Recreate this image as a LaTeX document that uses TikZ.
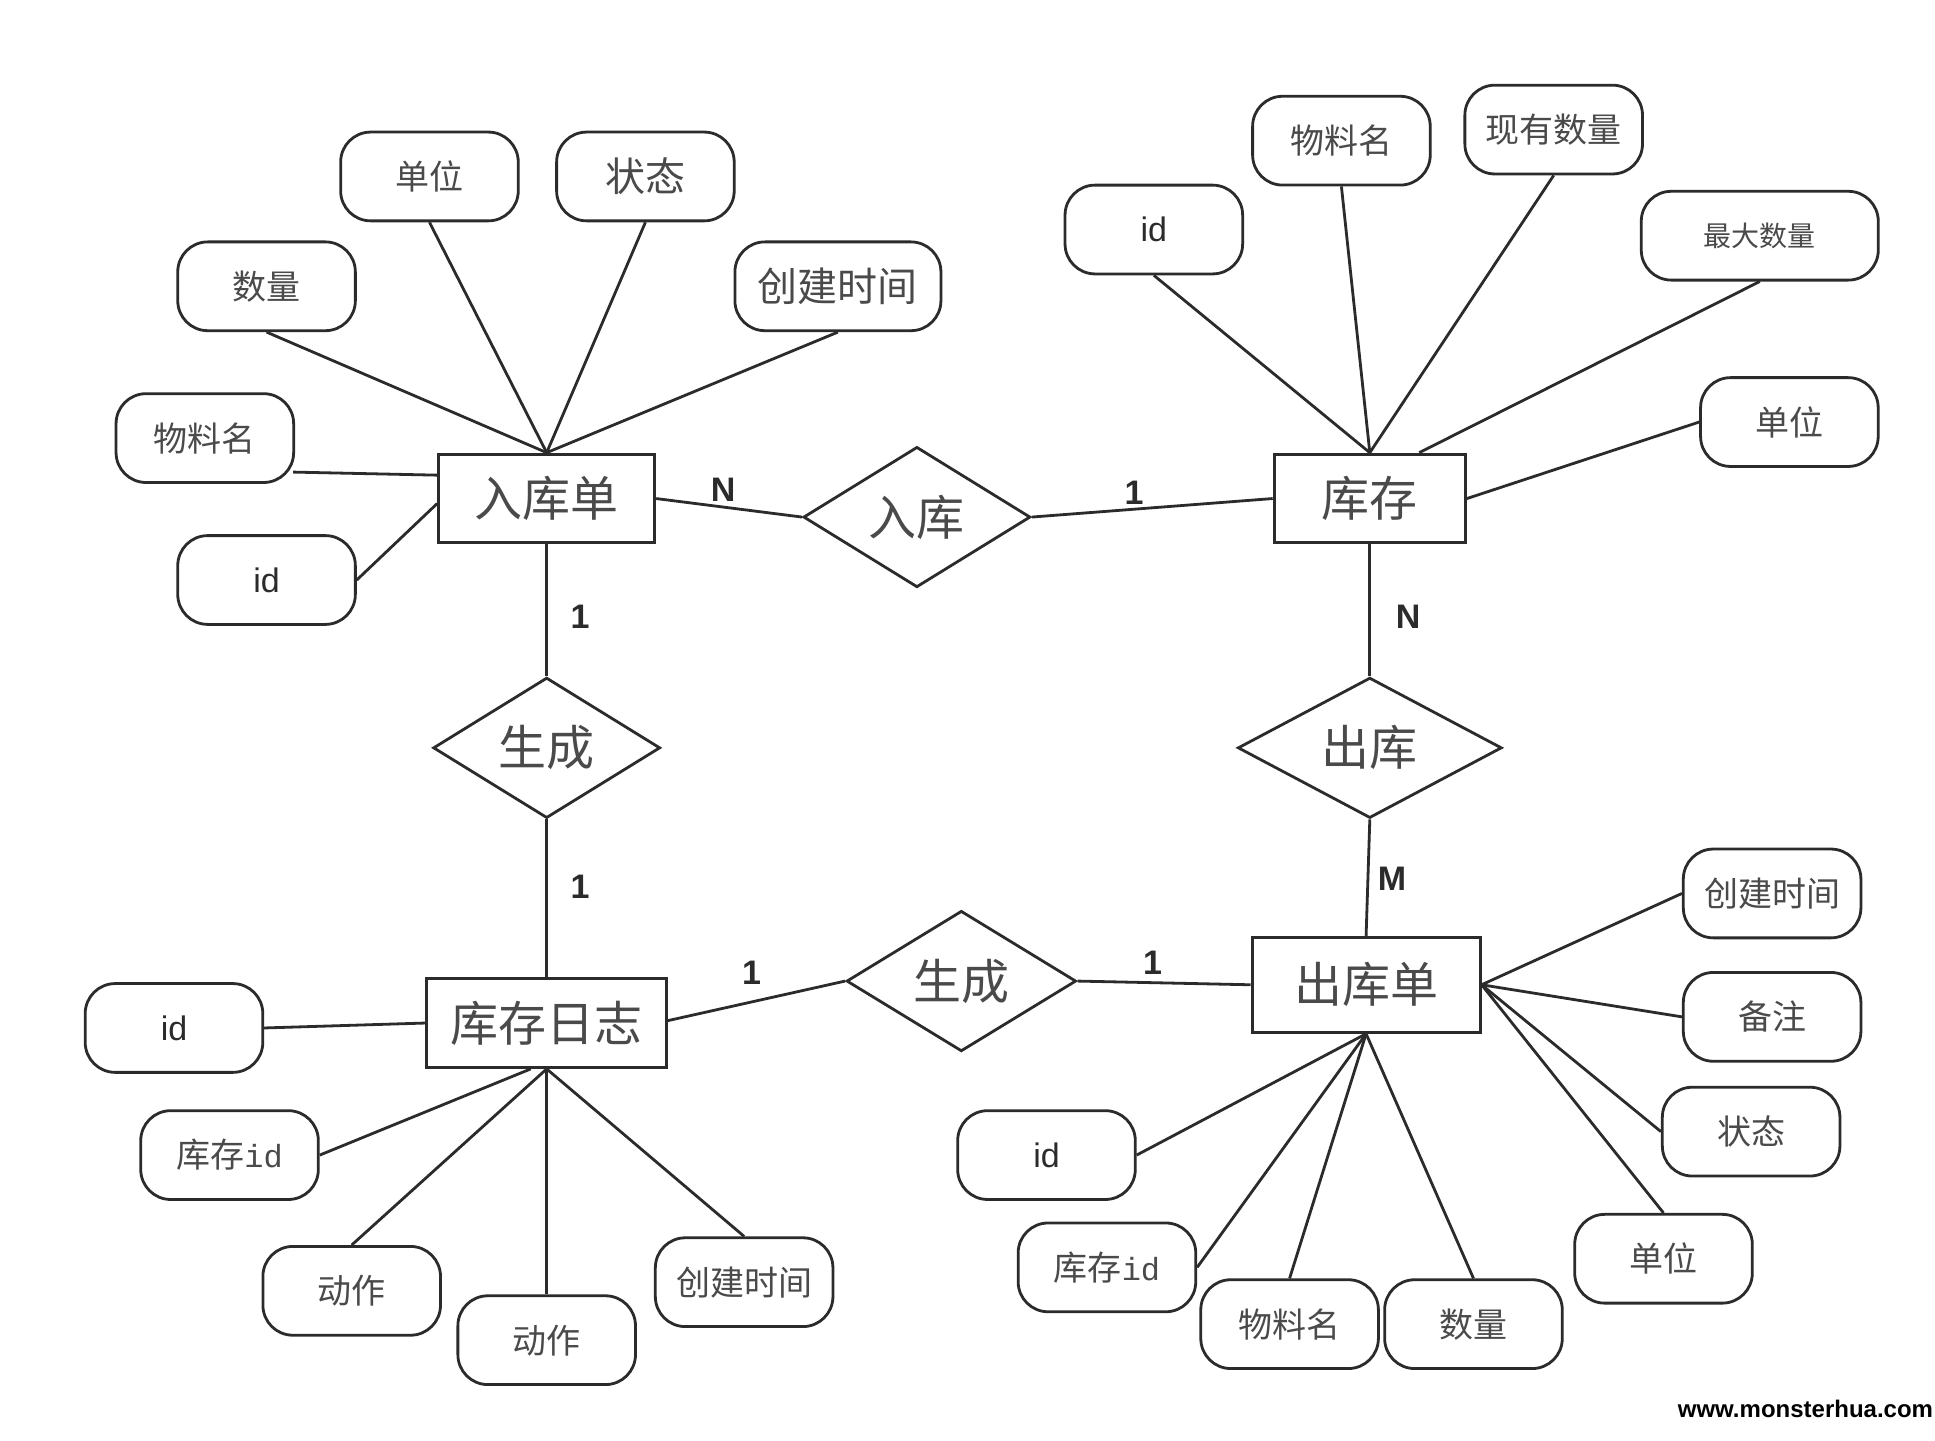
\documentclass[tikz,border=0pt]{standalone}
\usepackage{fontspec}
\setmainfont{Liberation Sans}
\newfontfamily\cjk{Noto Sans CJK SC}
\newfontfamily\monofnt{Liberation Mono}
\usetikzlibrary{shapes.geometric}
\definecolor{tgray}{HTML}{4A4A4A}
\definecolor{lgray}{HTML}{2B2B2B}
\tikzset{
  attr/.style={draw=lgray, line width=1.4pt, rounded corners=15pt, minimum width=88.8pt, minimum height=44.4pt, inner sep=0pt, text=tgray, font=\cjk\fontsize{17}{20}\selectfont},
  idattr/.style={attr, font=\fontsize{17}{20}\selectfont, text=lgray},
  ent/.style={draw=lgray, line width=1.5pt, rectangle, minimum height=44.4pt, inner sep=0pt, text=tgray, font=\cjk\fontsize{24}{28}\selectfont},
  rel/.style={draw=lgray, line width=1.4pt, diamond, inner sep=0pt, minimum height=67.9pt, text=tgray, font=\cjk\fontsize{24}{28}\selectfont},
  card/.style={font=\bfseries\fontsize{17}{20}\selectfont, text=lgray, inner sep=0pt},
  conn/.style={draw=lgray, line width=1.4pt}
}
\begin{document}
\begin{tikzpicture}[x=0.617pt,y=-0.617pt]
\useasboundingbox[fill=white] (0,0) rectangle (1568,1167);

% entities
\node[ent, minimum width=108pt] (rkd) at (443,404) {入库单};
\node[ent, minimum width=95.6pt] (kc) at (1110,404) {库存};
\node[ent, minimum width=119.7pt] (rz) at (443,829) {库存日志};
\node[ent, minimum width=114pt, minimum height=47.5pt] (ckd) at (1107,798) {出库单};

% relations
\node[rel, minimum width=113.5pt] (rk) at (743,419) {入库};
\node[rel, minimum width=113.5pt] (sc1) at (443,606) {生成};
\node[rel, minimum width=132pt] (ck) at (1110,606) {出库};
\node[rel, minimum width=114.8pt] (sc2) at (779,795) {生成};

% attributes of 入库单
\node[attr] (a1) at (348,143) {单位};
\node[attr, font=\cjk\fontsize{20}{24}\selectfont] (a2) at (523,143) {状态};
\node[attr] (a3) at (216,232) {数量};
\node[attr, minimum width=103pt, font=\cjk\fontsize{20}{24}\selectfont] (a4) at (679,232) {创建时间};
\node[attr] (a5) at (166,355) {物料名};
\node[idattr] (a6) at (216,470) {id};

% attributes of 库存
\node[idattr] (b1) at (935,186) {id};
\node[attr] (b2) at (1087,114) {物料名};
\node[attr] (b3) at (1259,105) {现有数量};
\node[attr, minimum width=118.5pt, font=\cjk\fontsize{14}{17}\selectfont] (b4) at (1426,191) {最大数量};
\node[attr] (b5) at (1450,342) {单位};

% attributes of 库存日志
\node[idattr] (c1) at (141,833) {id};
\node[attr] (c2) at (186,936) {库存{\monofnt\fontsize{16}{20}\selectfont id}};
\node[attr] (c3) at (285,1046) {动作};
\node[attr] (c4) at (443,1086) {动作};
\node[attr] (c5) at (603,1039) {创建时间};

% attributes of 出库单
\node[attr] (d1) at (1436,724) {创建时间};
\node[attr] (d2) at (1436,824) {备注};
\node[attr] (d3) at (1419,917) {状态};
\node[attr] (d4) at (1348,1020) {单位};
\node[idattr] (d5) at (848,936) {id};
\node[attr] (d6) at (897,1027) {库存{\monofnt\fontsize{16}{20}\selectfont id}};
\node[attr] (d7) at (1045,1073) {物料名};
\node[attr] (d8) at (1194,1073) {数量};

% attribute links: 入库单
\draw[conn] (a3.south) -- (rkd.north);
\draw[conn] (a1.south) -- (rkd.north);
\draw[conn] (a2.south) -- (rkd.north);
\draw[conn] (a4.south) -- (rkd.north);
\draw[conn] ([yshift=-17pt,xshift=-1pt]a5.east) -- ([yshift=11.7pt]rkd.west);
\draw[conn] (a6.east) -- ([yshift=-2.5pt]rkd.west);

% attribute links: 库存
\draw[conn] (b1.south) -- (kc.north);
\draw[conn] (b2.south) -- (kc.north);
\draw[conn] (b3.south) -- (kc.north);
\draw[conn] (b4.south) -- ([xshift=24.7pt]kc.north);
\draw[conn] (b5.west) -- (kc.east);

% attribute links: 库存日志
\draw[conn] (c1.east) -- (rz.west);
\draw[conn] (c2.east) -- ([xshift=-8pt]rz.south);
\draw[conn] (c3.north) -- (rz.south);
\draw[conn] (c4.north) -- (rz.south);
\draw[conn] (c5.north) -- (rz.south);

% attribute links: 出库单
\draw[conn] (ckd.east) -- (d1.west);
\draw[conn] (ckd.east) -- (d2.west);
\draw[conn] (ckd.east) -- (d3.west);
\draw[conn] (ckd.east) -- (d4.north);
\draw[conn] (ckd.south) -- (d5.east);
\draw[conn] (ckd.south) -- (d6.east);
\draw[conn] (ckd.south) -- (d7.north);
\draw[conn] (ckd.south) -- (d8.north);

% relationship links
\draw[conn] (rkd.east) -- (rk.west);
\draw[conn] (rk.east) -- (kc.west);
\draw[conn] (rkd.south) -- (sc1.north);
\draw[conn] (sc1.south) -- (rz.north);
\draw[conn] (kc.south) -- (ck.north);
\draw[conn] (ck.south) -- (ckd.north);
\draw[conn] ([yshift=1.2pt]rz.east) -- (sc2.west);
\draw[conn] (sc2.east) -- (ckd.west);

% cardinalities
\node[card] (n1) at (586,397) {N};
\node[card] (n2) at (919,399) {1};
\node[card] (n3) at (470,500) {1};
\node[card] (n4) at (470,719) {1};
\node[card] (n5) at (1141,500) {N};
\node[card] (n6) at (1128,712) {M};
\node[card] (n7) at (609,788) {1};
\node[card] (n8) at (934,780) {1};

% watermark
\node[font=\bfseries\fontsize{12}{14}\selectfont, inner sep=0pt] (wm) at (1463,1142) {www.monsterhua.com};
\end{tikzpicture}
\end{document}
